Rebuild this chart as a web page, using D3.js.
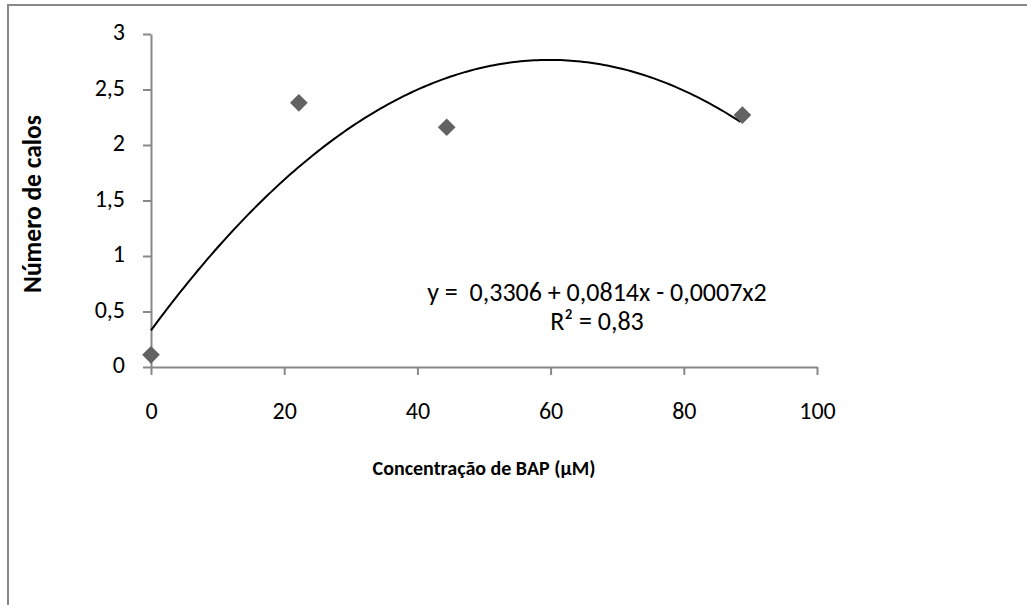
<!DOCTYPE html>
<html>
<head>
<meta charset="utf-8">
<script src="https://cdn.jsdelivr.net/npm/d3@7"></script>
<style>
  html, body { margin: 0; padding: 0; background: #fff; }
  svg { display: block; font-family: Carlito, Lato, "Liberation Sans", sans-serif; }
  .tick text { font-size: 24px; fill: #000; }
  .axis path, .axis line { stroke: #888; stroke-width: 2; }
  text { white-space: pre; }
</style>
</head>
<body>
<svg width="1027" height="605"></svg>
<script>
// BAP concentration (µM) and number of calli
const concentration = [0, 22.2, 44.4, 88.8];
const calli = [0.11, 2.38, 2.16, 2.27];

// quadratic trend line coefficients (a + b x + c x^2)
const trendCoef = [0.3306, 0.0814, -0.00068];
const trendLabel = ["y =  0,3306 + 0,0814x - 0,0007x2", "R² = 0,83"];

const xTicks = [0, 20, 40, 60, 80, 100];
const yTicks = [0, 0.5, 1, 1.5, 2, 2.5, 3];

const xTitle = "Concentração de BAP (µM)";
const yTitle = "Número de calos";

const svg = d3.select("svg");
const width = 1027, height = 605;
const margin = { left: 151, right: 210, top: 34, bottom: 238 };

const ptBR = d3.formatLocale({ decimal: ",", thousands: ".", grouping: [3], currency: ["R$", ""] });
const fmt = ptBR.format("~g");

// frame round the chart
svg.append("rect")
  .attr("x", 8).attr("y", 5)
  .attr("width", width).attr("height", height)
  .attr("fill", "none")
  .attr("stroke", "#888")
  .attr("stroke-width", 2);

const x = d3.scaleLinear().domain([0, 100]).range([margin.left, width - margin.right]);
const y = d3.scaleLinear().domain([0, 3]).range([height - margin.bottom, margin.top]);

svg.append("g")
  .attr("class", "axis")
  .attr("transform", `translate(0,${y(0)})`)
  .call(d3.axisBottom(x).tickValues(xTicks).tickFormat(fmt).tickSize(8).tickSizeOuter(0))
  .attr("font-family", null).attr("font-size", null)
  .call((g) => g.selectAll(".tick text").attr("dy", 0).attr("y", 46).attr("dominant-baseline", "middle"));

svg.append("g")
  .attr("class", "axis")
  .attr("transform", `translate(${x(0)},0)`)
  .call(d3.axisLeft(y).tickValues(yTicks).tickFormat(fmt).tickSize(8).tickSizeOuter(0))
  .attr("font-family", null).attr("font-size", null)
  .call((g) => g.selectAll(".tick text").attr("x", -26).attr("dy", 0).attr("dominant-baseline", "middle"));

// trend line
const trend = (v) => trendCoef[0] + trendCoef[1] * v + trendCoef[2] * v * v;
const xs = d3.range(0, concentration[concentration.length - 1] + 0.001, 0.5);
svg.append("path")
  .datum(xs)
  .attr("fill", "none")
  .attr("stroke", "#000")
  .attr("stroke-width", 2)
  .attr("d", d3.line().x((d) => x(d)).y((d) => y(trend(d))));

// data markers
svg.append("g")
  .selectAll("path")
  .data(concentration)
  .join("path")
  .attr("transform", (d, i) => `translate(${x(d)},${y(calli[i])})`)
  .attr("d", d3.symbol(d3.symbolDiamond2, 200))
  .attr("fill", "#626262");

// equation, one text per line
svg.append("g")
  .selectAll("text")
  .data(trendLabel)
  .join("text")
  .attr("x", 597)
  .attr("y", (d, i) => 295 + i * 29)
  .attr("text-anchor", "middle")
  .attr("dominant-baseline", "middle")
  .style("font-size", "26px")
  .text((d) => d);

svg.append("text")
  .attr("x", 484).attr("y", 470)
  .attr("text-anchor", "middle")
  .attr("dominant-baseline", "middle")
  .style("font-size", "20px")
  .style("font-weight", "bold")
  .text(xTitle);

svg.append("text")
  .attr("transform", "translate(35,204) rotate(-90)")
  .attr("text-anchor", "middle")
  .attr("dominant-baseline", "middle")
  .style("font-size", "25.5px")
  .style("font-weight", "bold")
  .text(yTitle);
</script>
</body>
</html>
